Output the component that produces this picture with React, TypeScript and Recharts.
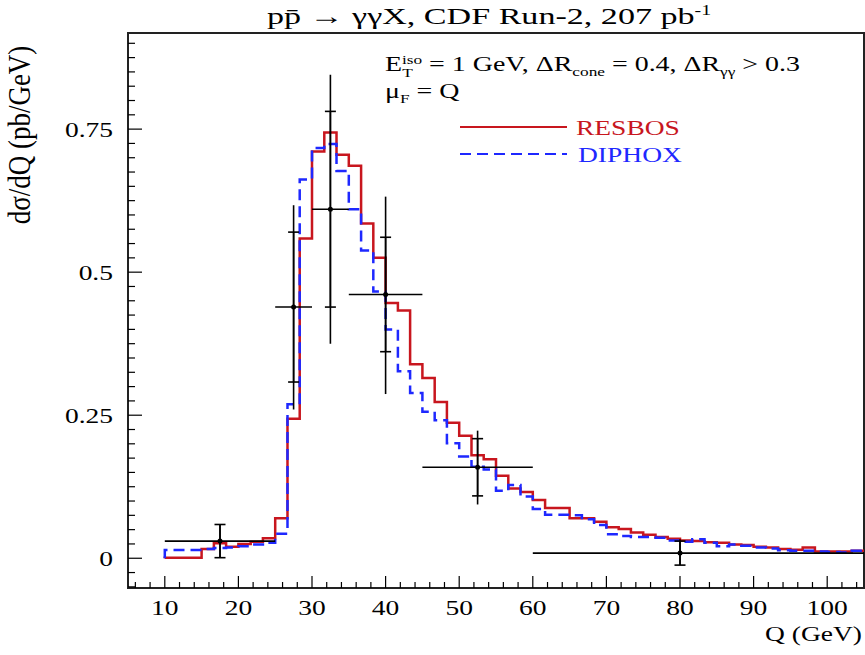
import { ComposedChart, Line, Scatter, ErrorBar, XAxis, YAxis, ReferenceArea } from 'recharts';

// bin edges of both histograms (57 bins of 5/3 GeV from 10 to 105)
const binEdges = [
  10, 11.67, 13.33, 15, 16.67, 18.33, 20, 21.67, 23.33, 25, 26.67, 28.33, 30, 31.67, 33.33, 35, 36.67, 38.33, 40,
  41.67, 43.33, 45, 46.67, 48.33, 50, 51.67, 53.33, 55, 56.67, 58.33, 60, 61.67, 63.33, 65, 66.67, 68.33, 70,
  71.67, 73.33, 75, 76.67, 78.33, 80, 81.67, 83.33, 85, 86.67, 88.33, 90, 91.67, 93.33, 95, 96.67, 98.33, 100,
  101.67, 103.33, 105,
];

const resbos = [
  0.001, 0.001, 0.001, 0.016, 0.026, 0.02, 0.025, 0.029, 0.035, 0.07, 0.244, 0.559, 0.711, 0.744, 0.705, 0.686,
  0.585, 0.525, 0.446, 0.433, 0.339, 0.315, 0.273, 0.237, 0.214, 0.18, 0.173, 0.144, 0.122, 0.116, 0.102, 0.088,
  0.088, 0.07, 0.07, 0.064, 0.054, 0.051, 0.045, 0.041, 0.037, 0.034, 0.031, 0.03, 0.028, 0.027, 0.024, 0.023,
  0.02, 0.019, 0.016, 0.015, 0.019, 0.012, 0.012, 0.012, 0.013,
];

const diphox = [
  0.0145, 0.0145, 0.0145, 0.016, 0.018, 0.019, 0.021, 0.024, 0.027, 0.043, 0.269, 0.662, 0.717, 0.724, 0.677,
  0.61, 0.538, 0.466, 0.4, 0.327, 0.289, 0.256, 0.241, 0.201, 0.178, 0.16, 0.155, 0.118, 0.128, 0.108, 0.086,
  0.076, 0.076, 0.075, 0.068, 0.058, 0.042, 0.039, 0.037, 0.037, 0.036, 0.031, 0.029, 0.033, 0.027, 0.021, 0.024,
  0.022, 0.019, 0.017, 0.014, 0.013, 0.013, 0.012, 0.011, 0.01, 0.013,
];

// CDF Run-2 data points
const dataQ = [17.5, 27.5, 32.5, 40, 52.5, 80];
const dataY = [0.03, 0.439, 0.61, 0.461, 0.159, 0.009];
const dataQLow = [10, 25, 30, 35, 45, 60];
const dataQHigh = [25, 30, 35, 45, 60, 105];
const statErr = [0.029, 0.131, 0.171, 0.1, 0.05, 0.021];
const totErrLow = [0.029, 0.179, 0.235, 0.174, 0.065, 0.021];
const totErrHigh = [0.029, 0.178, 0.235, 0.171, 0.064, 0.024];

const xMajor = [10, 20, 30, 40, 50, 60, 70, 80, 90, 100];
const yMajor = [0, 0.25, 0.5, 0.75];
const yLabels = ['0', '0.25', '0.5', '0.75'];
const xTicks = Array.from({ length: 50 }, (_, i) => 6 + i * 2);
const yTicks = Array.from({ length: 39 }, (_, i) => +(-0.05 + i * 0.025).toFixed(3));

const RED = '#c8161e';
const BLUE = '#1e28ff';
const FONT = '"Liberation Serif", "Times New Roman", serif';
const SX = 1.25;

const toSteps = (vals: number[]) => [
  { q: binEdges[0], v: 0 },
  ...vals.map((v, i) => ({ q: binEdges[i], v })),
  { q: binEdges[binEdges.length - 1], v: vals[vals.length - 1] },
];

const resbosSteps = toSteps(resbos);
const diphoxSteps = toSteps(diphox);

const points = dataQ.map((q, i) => ({
  q,
  v: dataY[i],
  xe: [q - dataQLow[i], dataQHigh[i] - q],
  tot: [totErrLow[i], totErrHigh[i]],
  stat: statErr[i],
}));

function Txt({ x, y, anchor = 'start', size = 22, sx = SX, fill = '#000', children }: any) {
  return (
    <g transform={`translate(${x},${y}) scale(${sx},1)`}>
      <text x={0} y={0} textAnchor={anchor} fontSize={size} fontFamily={FONT} fill={fill}>
        {children}
      </text>
    </g>
  );
}

function XTick(props: any) {
  const { x, y, payload } = props;
  const major = xMajor.includes(payload.value);
  return (
    <g>
      <line x1={x} x2={x} y1={y} y2={y - (major ? 12 : 6)} stroke="#000" strokeWidth={1.2} />
      {major && (
        <Txt x={x} y={y + 27} anchor="middle">
          {payload.value}
        </Txt>
      )}
    </g>
  );
}

function YTick(props: any) {
  const { x, y, payload } = props;
  const idx = yMajor.findIndex(m => Math.abs(m - payload.value) < 1e-6);
  const major = idx >= 0;
  return (
    <g>
      <line x1={x} x2={x + (major ? 14 : 7)} y1={y} y2={y} stroke="#000" strokeWidth={1.2} />
      {major && (
        <Txt x={x - 15} y={y + 8} anchor="end">
          {yLabels[idx]}
        </Txt>
      )}
    </g>
  );
}

export default function App() {
  return (
    <div style={{ position: 'absolute', left: 0, top: 0, width: 865, height: 655, background: '#fff' }}>
      <ComposedChart width={865} height={655} margin={{ top: 33, right: 1, bottom: 66, left: 127 }}>
        <XAxis
          type="number"
          dataKey="q"
          domain={[5, 105]}
          ticks={xTicks}
          interval={0}
          allowDataOverflow
          height={1}
          tickSize={0}
          tickMargin={0}
          axisLine={false}
          tickLine={false}
          tick={XTick}
        />
        <YAxis
          type="number"
          domain={[-0.052, 0.918]}
          ticks={yTicks}
          interval={0}
          allowDataOverflow
          width={1}
          tickSize={0}
          tickMargin={0}
          axisLine={false}
          tickLine={false}
          tick={YTick}
        />
        <ReferenceArea x1={5} x2={105} y1={-0.052} y2={0.918} fill="none" stroke="#222" strokeWidth={2} ifOverflow="visible" />
        <Line data={resbosSteps} dataKey="v" type="stepAfter" stroke={RED} strokeWidth={2.5} dot={false} isAnimationActive={false} />
        <Line
          data={diphoxSteps}
          dataKey="v"
          type="stepAfter"
          stroke={BLUE}
          strokeWidth={2.5}
          strokeDasharray="11 6"
          dot={false}
          isAnimationActive={false}
        />
        <Scatter
          data={points}
          dataKey="v"
          isAnimationActive={false}
          shape={(p: any) => <circle cx={p.cx} cy={p.cy} r={2.5} fill="#000" />}
        >
          <ErrorBar dataKey="xe" direction="x" width={0} stroke="#000" strokeWidth={1.6} />
          <ErrorBar dataKey="tot" direction="y" width={0} stroke="#000" strokeWidth={1.6} />
          <ErrorBar dataKey="stat" direction="y" width={5.5} stroke="#000" strokeWidth={1.6} />
        </Scatter>
      </ComposedChart>

      <svg width={865} height={655} style={{ position: 'absolute', left: 0, top: 0, pointerEvents: 'none' }}>
        <Txt x={489} y={24} anchor="middle" size={24} sx={1.42}>
          pp̄ → γγX, CDF Run-2, 207 pb
          <tspan dy={-9} fontSize={14}>-1</tspan>
        </Txt>

        <Txt x={385} y={71} size={21} sx={1.33}>
          E
          <tspan dy={-7} fontSize={13}>iso</tspan>
          <tspan dx={-15} dy={13} fontSize={13}>T</tspan>
          <tspan dx={7} dy={-6}> = 1 GeV, ΔR</tspan>
          <tspan dy={5} fontSize={13}>cone</tspan>
          <tspan dy={-5}> = 0.4, ΔR</tspan>
          <tspan dy={5} fontSize={13}>γγ</tspan>
          <tspan dy={-5}> &gt; 0.3</tspan>
        </Txt>
        <Txt x={385} y={98} size={21} sx={1.33}>
          μ
          <tspan dy={5} fontSize={13}>F</tspan>
          <tspan dy={-5}> = Q</tspan>
        </Txt>

        <line x1={460} x2={567} y1={127} y2={127} stroke={RED} strokeWidth={2} />
        <Txt x={576} y={135} size={22} fill={RED}>
          RESBOS
        </Txt>
        <line x1={460} x2={567} y1={154} y2={154} stroke={BLUE} strokeWidth={2} strokeDasharray="11 6" />
        <Txt x={578} y={162} size={22} fill={BLUE}>
          DIPHOX
        </Txt>

        <g transform="translate(30,135) scale(1.15,1) rotate(-90)">
          <text x={0} y={0} textAnchor="middle" fontSize={27} fontFamily={FONT}>
            dσ/dQ (pb/GeV)
          </text>
        </g>

        <Txt x={862} y={641} anchor="end" size={22}>
          Q (GeV)
        </Txt>
      </svg>
    </div>
  );
}
